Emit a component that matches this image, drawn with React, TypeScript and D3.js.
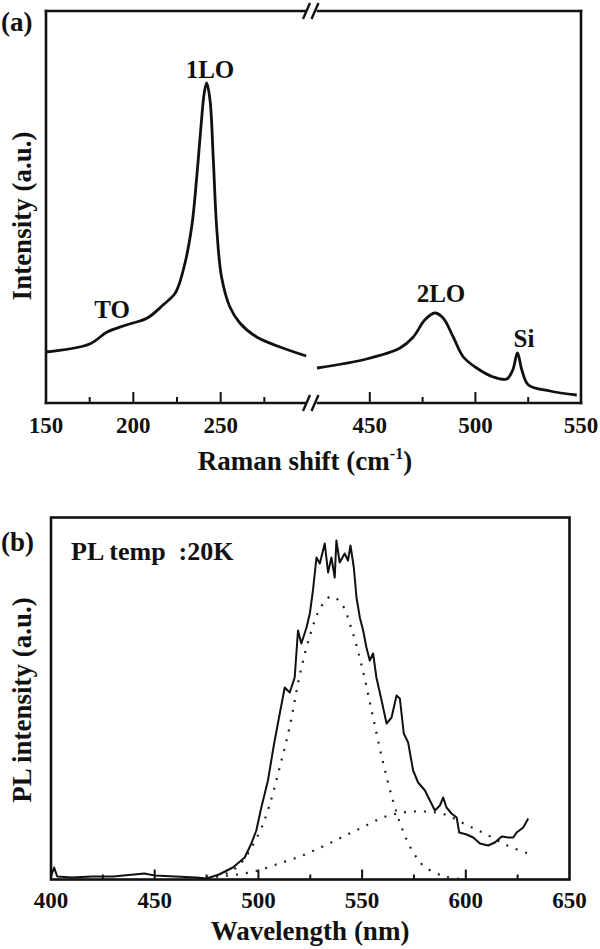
import * as d3 from "d3";

// panel (a) Raman spectrum, left part of the broken axis
const ramanLowShift = [150, 175, 185, 196, 208, 217, 224, 228.6, 233.4, 236.3, 238.7, 240.6, 242, 243.9, 245.8, 247.7, 250.5, 255.3, 261, 270.6, 284, 299];
const ramanLowInt = [51, 59, 71, 78, 85, 98, 110, 133, 176, 226, 276, 310, 320, 303, 243, 176, 126, 96, 80, 66, 56, 47];
// right part of the broken axis
const ramanHighShift = [425, 448.5, 464.3, 470.6, 476, 480.7, 484.7, 489.5, 494.3, 500.6, 508.5, 514.8, 517.7, 519.9, 522, 525.1, 535.3, 548];
const ramanHighInt = [35, 44, 55, 66, 83, 90, 85, 66, 46, 35, 26, 24, 33, 50, 33, 18, 12, 8];

const ramanLowTicks = [175, 200, 225, 250, 275];
const ramanHighTicks = [450, 475, 500, 525];
const ramanLowLabels = [150, 200, 250];
const ramanHighLabels = [450, 500, 550];

// panel (b) PL spectrum
const plWave = [400, 401.5, 403, 410, 420, 430, 440, 445, 450, 460, 470, 475, 481, 487.7, 493.4, 496.6, 499, 501.4, 504.6, 507.5, 510.3, 512.7, 515.1, 517.5, 519.1, 520.7, 523.2, 524.8, 526.3, 528, 529.6, 532, 533.6, 535.2, 536.8, 537.6, 539.2, 541.6, 543.2, 544.4, 546, 547.3, 548.9, 550.5, 552.1, 553.7, 555.3, 556.9, 559.4, 561.8, 564.2, 566.6, 568.2, 570.1, 572.2, 574.6, 577, 580.3, 582.7, 585.1, 587.5, 589.1, 590.7, 593.1, 595.6, 596.8, 600.4, 603.6, 606.8, 610.8, 614, 617.3, 620.5, 622.9, 624.5, 627.7, 630.1];
const plInt = [3, 12, 3, 2, 3, 3, 5, 6, 4, 3, 2, 1, 5, 12, 22, 36, 49, 72, 99, 135, 166, 192, 187, 202, 249, 236, 252, 266, 289, 322, 316, 336, 307, 322, 302, 339, 317, 326, 319, 334, 312, 282, 262, 249, 232, 219, 226, 202, 179, 156, 162, 184, 181, 146, 137, 109, 97, 89, 79, 69, 74, 82, 72, 66, 62, 47, 45, 42, 36, 34, 37, 43, 42, 42, 47, 52, 61];

// dotted fit components
const fit1Wave = [470, 480, 490, 500, 505, 510, 515, 520, 525, 530, 535, 540, 545, 550, 555, 560, 565, 570, 575, 580, 590, 600];
const fit1Int = [1, 3, 13, 45, 72, 110, 152, 205, 245, 272, 283, 276, 250, 212, 165, 118, 78, 47, 26, 13, 3, 0];
const fit2Wave = [470, 480, 490, 500, 510, 520, 530, 540, 550, 560, 570, 580, 590, 600, 610, 620, 630];
const fit2Int = [1, 3, 5, 9, 16, 23, 32, 42, 52, 62, 67, 68, 65, 55, 45, 34, 26];

const plTicks = [425, 450, 475, 500, 525, 550, 575, 600, 625];
const plLabels = [400, 450, 500, 550, 600, 650];

const FONT = "'Liberation Serif', 'Times New Roman', serif";

export default function App() {
  // ---- panel (a) scales
  const xLow = d3.scaleLinear().domain([150, 300]).range([46, 308]);
  const xHigh = d3.scaleLinear().domain([425, 550]).range([317, 581]);
  const yA = d3.scaleLinear().domain([0, 392]).range([403, 11]);
  const aLeft = 46, aRight = 581, aTop = 11, aBot = 403;
  const gapL = 305, gapR = 318;
  const slashes = [306.5, 315];

  const lineLow = d3.line<number>()
    .x((d, i) => xLow(ramanLowShift[i]))
    .y(d => yA(d))
    .curve(d3.curveCatmullRom);
  const lineHigh = d3.line<number>()
    .x((d, i) => xHigh(ramanHighShift[i]))
    .y(d => yA(d))
    .curve(d3.curveCatmullRom);

  // ---- panel (b) scales
  const xB = d3.scaleLinear().domain([400, 650]).range([51, 569.5]);
  const yB = d3.scaleLinear().domain([0, 362]).range([879.5, 517.5]);

  const plLine = d3.line<number>()
    .x((d, i) => xB(plWave[i]))
    .y(d => yB(d));
  const fit1Line = d3.line<number>()
    .x((d, i) => xB(fit1Wave[i]))
    .y(d => yB(d))
    .curve(d3.curveCatmullRom);
  const fit2Line = d3.line<number>()
    .x((d, i) => xB(fit2Wave[i]))
    .y(d => yB(d))
    .curve(d3.curveCatmullRom);

  const isMajor = (v: number) => v % 50 === 0;

  return (
    <svg width={600} height={949} style={{ position: "absolute", left: 0, top: 0, background: "#fff" }}
      fontFamily={FONT} fontWeight="bold" fill="#111">
      {/* ===== panel (a) ===== */}
      <g stroke="#111" strokeWidth={2.6} fill="none" strokeLinecap="square">
        <line x1={aLeft} y1={aTop} x2={aLeft} y2={aBot} />
        <line x1={aRight} y1={aTop} x2={aRight} y2={aBot} />
        <line x1={aLeft} y1={aTop} x2={gapL} y2={aTop} />
        <line x1={gapR} y1={aTop} x2={aRight} y2={aTop} />
        <line x1={aLeft} y1={aBot} x2={gapL} y2={aBot} />
        <line x1={gapR} y1={aBot} x2={aRight} y2={aBot} />
      </g>
      <g stroke="#111" strokeWidth={2.4}>
        {slashes.map((c, i) => (
          <g key={i}>
            <line x1={c - 3.5} y1={aTop + 8} x2={c + 3.5} y2={aTop - 8} />
            <line x1={c - 3.5} y1={aBot + 8} x2={c + 3.5} y2={aBot - 8} />
          </g>
        ))}
      </g>
      <g stroke="#111" strokeWidth={2}>
        {ramanLowTicks.map(v => (
          <line key={"l" + v} x1={xLow(v)} x2={xLow(v)} y1={aBot} y2={aBot - (isMajor(v) ? 11 : 6)} />
        ))}
        {ramanHighTicks.map(v => (
          <line key={"h" + v} x1={xHigh(v)} x2={xHigh(v)} y1={aBot} y2={aBot - (isMajor(v) ? 11 : 6)} />
        ))}
      </g>
      <g fontSize={23} textAnchor="middle">
        {ramanLowLabels.map(v => (
          <text key={"ll" + v} x={xLow(v)} y={433}>{v}</text>
        ))}
        {ramanHighLabels.map(v => (
          <text key={"hl" + v} x={xHigh(v)} y={433}>{v}</text>
        ))}
      </g>
      <path d={lineLow(ramanLowInt) || ""} fill="none" stroke="#111" strokeWidth={2.8} strokeLinejoin="round" />
      <path d={lineHigh(ramanHighInt) || ""} fill="none" stroke="#111" strokeWidth={2.8} strokeLinejoin="round" />
      <g fontSize={25} textAnchor="middle">
        <text x={210} y={78}>1LO</text>
        <text x={112} y={318}>TO</text>
        <text x={441} y={302}>2LO</text>
        <text x={524} y={347}>Si</text>
      </g>
      <text x={1} y={31} fontSize={27}>(a)</text>
      <text fontSize={27} textAnchor="middle" x={305} y={470}>
        Raman shift (cm<tspan fontSize={16} dy={-11}>-1</tspan><tspan dy={11}>)</tspan>
      </text>
      <text fontSize={27} textAnchor="middle" transform={`translate(31,216) rotate(-90)`}>Intensity (a.u.)</text>

      {/* ===== panel (b) ===== */}
      <rect x={51} y={517.5} width={518.5} height={362} fill="none" stroke="#111" strokeWidth={2.6} />
      <g stroke="#111" strokeWidth={2}>
        {plTicks.map(v => (
          <line key={"p" + v} x1={xB(v)} x2={xB(v)} y1={879.5} y2={879.5 - (isMajor(v) ? 10 : 5)} />
        ))}
      </g>
      <g fontSize={23} textAnchor="middle">
        {plLabels.map(v => (
          <text key={"pl" + v} x={xB(v)} y={908}>{v}</text>
        ))}
      </g>
      <path d={fit1Line(fit1Int) || ""} fill="none" stroke="#222" strokeWidth={2.2} strokeDasharray="2 8" />
      <path d={fit2Line(fit2Int) || ""} fill="none" stroke="#222" strokeWidth={2.2} strokeDasharray="2 8" />
      <path d={plLine(plInt) || ""} fill="none" stroke="#111" strokeWidth={2} strokeLinejoin="round" />
      <text x={1} y={551} fontSize={27}>(b)</text>
      <text x={71} y={560} fontSize={26} style={{ whiteSpace: "pre" }}>PL temp  :20K</text>
      <text fontSize={27} textAnchor="middle" x={310} y={940}>Wavelength (nm)</text>
      <text fontSize={27} textAnchor="middle" transform={`translate(31,700) rotate(-90)`}>PL intensity (a.u.)</text>
    </svg>
  );
}
